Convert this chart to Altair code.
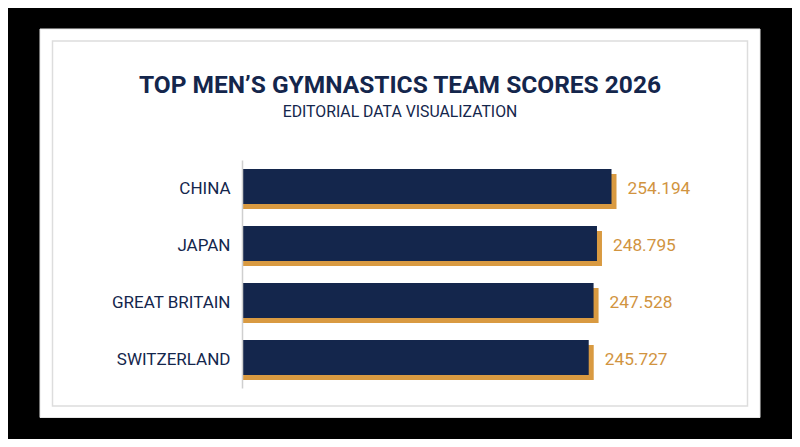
import altair as alt
import pandas as pd

teams = ["CHINA", "JAPAN", "GREAT BRITAIN", "SWITZERLAND"]
scores = [254.194, 248.795, 247.528, 245.727]
score_labels = ["254.194", "248.795", "247.528", "245.727"]
bar_start = [117.2, 117.2, 117.2, 117.2]
title_text = "TOP MEN\u2019S GYMNASTICS TEAM SCORES 2026"
subtitle_text = "EDITORIAL DATA VISUALIZATION"

NAVY = "#14264c"
GOLD = "#d99a41"
FONT = "Roboto"

df = pd.DataFrame({"team": teams, "score": scores, "start": bar_start, "label": score_labels})
base = alt.Chart(df)

x_scale = alt.Scale(domain=[117.2, 254.194], range=[0, 368.5], zero=False)
y_enc = alt.Y(
    "team:N",
    sort=teams,
    title=None,
    scale=alt.Scale(domain=teams),
    axis=alt.Axis(
        ticks=False,
        domainColor="#cfcfcf",
        domainWidth=1.5,
        labelColor="#14264c",
        labelFont=FONT,
        labelFontSize=17,
        labelPadding=12,
        labelLimit=200,
        offset=1,
        zindex=1,
    ),
)
x_enc = alt.X("score:Q", scale=x_scale, axis=None, title=None)
x2_enc = alt.X2("start:Q")

one = alt.Chart(pd.DataFrame({"a": [0]}))
panel = one.mark_rect(fill="white", stroke="#e6e6e6", strokeWidth=1).encode(
    x=alt.value(-203), x2=alt.value(517), y=alt.value(-131), y2=alt.value(257.5)
)
frame = one.mark_rect(fill="white", stroke="#dddddd", strokeWidth=1.5).encode(
    x=alt.value(-190.5), x2=alt.value(504.5), y=alt.value(-119), y2=alt.value(246)
)
title = alt.Chart(pd.DataFrame({"t": [title_text]})).mark_text(
    font=FONT, fontSize=24.5, fontWeight="bold", color=NAVY, align="center", baseline="alphabetic"
).encode(x=alt.value(157), y=alt.value(-67), text="t:N")
subtitle = alt.Chart(pd.DataFrame({"t": [subtitle_text]})).mark_text(
    font=FONT, fontSize=15.8, color=NAVY, align="center", baseline="alphabetic"
).encode(x=alt.value(157), y=alt.value(-43), text="t:N")

shadow = base.mark_bar(size=35, color=GOLD, yOffset=3, xOffset=5, x2Offset=0).encode(
    x=x_enc, x2=x2_enc, y=y_enc
)
bars = base.mark_bar(size=35, color=NAVY, yOffset=-2).encode(
    x=x_enc, x2=x2_enc, y=y_enc
)
labels = base.mark_text(
    font=FONT, fontSize=17.3, color="#d1943f", align="left", baseline="middle", dx=16, dy=0
).encode(x=x_enc, y=y_enc, text="label:N")

chart = alt.layer(panel, frame, title, subtitle, shadow, bars, labels).properties(
    width=549,
    height=228,
    background="black",
    padding={"left": 235, "top": 152, "right": 0, "bottom": 51},
    autosize=alt.AutoSizeParams(type="none"),
).configure_view(stroke=None)

chart.save("out.html", embed_options={"renderer": "svg", "actions": False})
